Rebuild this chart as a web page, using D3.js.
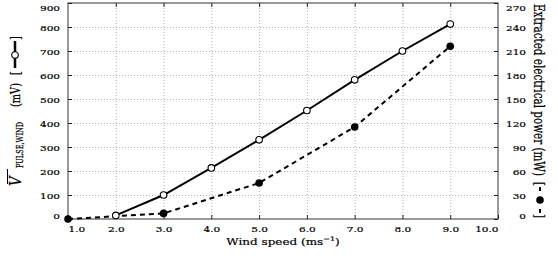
<!DOCTYPE html>
<html><head><meta charset="utf-8">
<script src="https://cdn.jsdelivr.net/npm/d3@7"></script>
<style>body{margin:0;background:#fff}svg{display:block}text{stroke:#000;stroke-width:0.25px}</style>
</head><body><svg id="c" width="558" height="260"></svg>
<script>
// ---- data ----
const windTicks = [1, 2, 3, 4, 5, 6, 7, 8, 9, 10];
const windTickLabels = ["1.0", "2.0", "3.0", "4.0", "5.0", "6.0", "7.0", "8.0", "9.0", "10.0"];
const voltageSpeeds = [2, 3, 4, 5, 6, 7, 8, 9];
const voltageMV = [15, 100, 213, 330, 452, 580, 700, 812];
const powerSpeeds = [1, 3, 5, 7, 9];
const powerMW = [0, 7, 45, 115, 216];
const leftTicks = [0, 100, 200, 300, 400, 500, 600, 700, 800, 900];
const rightTicks = [0, 30, 60, 90, 120, 150, 180, 210, 240, 270];

// ---- layout ----
const L = 68, R = 498, T = 3, B = 219;
const FONT = "'DejaVu Serif', serif";
const SQ = 0.78;
const INK = "#000";
const svg = d3.select("#c");
const x = d3.scaleLinear([1, 10], [L, R]);
const yL = d3.scaleLinear([0, 900], [B, T]);
const yR = d3.scaleLinear([0, 270], [B, T]);

// grid
const gx = svg.append("g").attr("transform", `translate(0,${B})`)
  .call(d3.axisBottom(x).tickValues(windTicks.slice(1, -1)).tickSize(-(B - T)).tickFormat(""));
gx.select(".domain").remove();
gx.selectAll("line").attr("stroke", "#b4b4b4").attr("stroke-dasharray", "1,2");
const gy = svg.append("g").attr("transform", `translate(${L},0)`)
  .call(d3.axisLeft(yL).tickValues(leftTicks.slice(1, -1)).tickSize(-(R - L)).tickFormat(""));
gy.select(".domain").remove();
gy.selectAll("line").attr("stroke", "#b4b4b4").attr("stroke-dasharray", "1,2");

// frame
svg.append("rect").attr("x", L).attr("y", T).attr("width", R - L).attr("height", B - T)
  .attr("fill", "none").attr("stroke", "#555").attr("stroke-width", 1.2);

function styleTicks(g) {
  g.select(".domain").remove();
  g.selectAll("line").attr("stroke", "#222").attr("stroke-width", 1);
  g.selectAll("text").attr("font-family", FONT).attr("font-size", 10.5).attr("fill", INK);
}

// bottom axis
const ab = svg.append("g").attr("transform", `translate(0,${B})`)
  .call(d3.axisBottom(x).tickValues(windTicks).tickSize(-4).tickFormat((d, i) => windTickLabels[i]));
styleTicks(ab);
ab.selectAll("text").each(function (d) {
  const t = d3.select(this).attr("y", 0).attr("dy", null).attr("text-anchor", "middle");
  const w = this.getComputedTextLength();
  let dx = 0;
  const xp = x(d);
  if (xp - w / 2 < L) dx = L - (xp - w / 2);
  if (xp + w / 2 > R) dx = R - (xp + w / 2);
  t.attr("transform", `translate(${dx},13) scale(1,${SQ})`);
});
// top ticks
const at = svg.append("g").attr("transform", `translate(0,${T})`)
  .call(d3.axisTop(x).tickValues(windTicks.slice(1, -1)).tickSize(-4).tickFormat(""));
styleTicks(at);

// left axis
const al = svg.append("g").attr("transform", `translate(${L},0)`)
  .call(d3.axisLeft(yL).tickValues(leftTicks).tickSize(-4));
styleTicks(al);
al.selectAll("text").each(function (d) {
  const yp = yL(d);
  const cy = Math.max(T + 4, Math.min(B - 4, yp));
  d3.select(this).attr("x", 0).attr("y", 0).attr("dy", null).attr("text-anchor", "end")
    .attr("transform", `translate(-8,${cy - yp + 3}) scale(1,${SQ})`);
});
// right axis
const ar = svg.append("g").attr("transform", `translate(${R},0)`)
  .call(d3.axisRight(yR).tickValues(rightTicks).tickSize(-4));
styleTicks(ar);
ar.selectAll("text").each(function (d) {
  const yp = yR(d);
  const cy = Math.max(T + 4, Math.min(B - 4, yp));
  d3.select(this).attr("x", 0).attr("y", 0).attr("dy", null).attr("text-anchor", "end")
    .attr("transform", `translate(28,${cy - yp + 3}) scale(1,${SQ})`);
});

// series
const vData = voltageSpeeds.map((s, i) => ({ s, v: voltageMV[i] }));
const pData = powerSpeeds.map((s, i) => ({ s, v: powerMW[i] }));
svg.append("path").datum(pData)
  .attr("d", d3.line().x(d => x(d.s)).y(d => yR(d.v)))
  .attr("fill", "none").attr("stroke", "#000").attr("stroke-width", 2)
  .attr("stroke-dasharray", "5,4");
svg.append("path").datum(vData)
  .attr("d", d3.line().x(d => x(d.s)).y(d => yL(d.v)))
  .attr("fill", "none").attr("stroke", "#000").attr("stroke-width", 2);
svg.append("g").selectAll("circle").data(pData).join("circle")
  .attr("cx", d => x(d.s)).attr("cy", d => yR(d.v)).attr("r", 3.8).attr("fill", "#000");
svg.append("g").selectAll("circle").data(vData).join("circle")
  .attr("cx", d => x(d.s)).attr("cy", d => yL(d.v)).attr("r", 3.3)
  .attr("fill", "#fff").attr("stroke", "#000").attr("stroke-width", 1.1);

// x title
const xt = svg.append("text").attr("text-anchor", "middle").attr("font-family", FONT)
  .attr("font-size", 12).attr("fill", INK)
  .attr("transform", `translate(${(L + R) / 2},245) scale(1,${SQ})`);
xt.append("tspan").text("Wind speed (ms");
xt.append("tspan").attr("font-size", 8).attr("dy", -5).text("\u22121");
xt.append("tspan").attr("dy", 5).text(")");

// left title (rotated, reading upward)
const cyMid = (T + B) / 2;
const lgS = svg.append("g").attr("transform", `translate(14,${cyMid}) rotate(-90) scale(${SQ},1)`);
const lg = svg.append("g").attr("transform", `translate(14,${cyMid}) rotate(-90)`);
lgS.append("text").attr("x", -75 / SQ).attr("y", 7).attr("font-family", FONT).attr("font-size", 17)
  .attr("font-style", "italic").attr("fill", INK).text("V");
lg.append("line").attr("x1", -73).attr("x2", -58).attr("y1", -6.5).attr("y2", -6.5)
  .attr("stroke", INK).attr("stroke-width", 1);
lgS.append("text").attr("x", -57 / SQ).attr("y", 8.5).attr("font-family", FONT).attr("font-size", 10)
  .attr("textLength", 46 / SQ).attr("lengthAdjust", "spacingAndGlyphs")
  .attr("fill", INK).text("PULSE,WIND");
lgS.append("text").attr("x", 4 / SQ).attr("y", 6).attr("font-family", FONT).attr("font-size", 12.5)
  .attr("textLength", 24 / SQ).attr("lengthAdjust", "spacingAndGlyphs")
  .attr("fill", INK).text("(mV)");
lgS.append("text").attr("x", 36 / SQ).attr("y", 6).attr("font-family", FONT).attr("font-size", 12.5)
  .attr("fill", INK).text("[");
lgS.append("text").attr("x", 71 / SQ).attr("y", 6).attr("font-family", FONT).attr("font-size", 12.5)
  .attr("fill", INK).text("]");
lg.append("line").attr("x1", 43).attr("x2", 70).attr("y1", 1).attr("y2", 1)
  .attr("stroke", "#000").attr("stroke-width", 2.5);
lg.append("circle").attr("cx", 56).attr("cy", 1).attr("r", 3.3)
  .attr("fill", "#fff").attr("stroke", "#000").attr("stroke-width", 1.1);

// right title (rotated, reading downward)
const rgS = svg.append("g").attr("transform", `translate(540,${cyMid}) rotate(90) scale(${SQ},1)`);
const rg = svg.append("g").attr("transform", `translate(540,${cyMid}) rotate(90)`);
rgS.append("text").attr("x", -107 / SQ).attr("y", 6).attr("font-family", FONT).attr("font-size", 14)
  .attr("textLength", 172 / SQ).attr("lengthAdjust", "spacingAndGlyphs")
  .attr("fill", INK).text("Extracted electrical power (mW)");
rgS.append("text").attr("x", 71 / SQ).attr("y", 5).attr("font-family", FONT).attr("font-size", 13)
  .attr("fill", INK).text("[");
rgS.append("text").attr("x", 103 / SQ).attr("y", 5).attr("font-family", FONT).attr("font-size", 13)
  .attr("fill", INK).text("]");
rg.append("line").attr("x1", 76).attr("x2", 102).attr("y1", 0).attr("y2", 0)
  .attr("stroke", "#000").attr("stroke-width", 2).attr("stroke-dasharray", "4,18");
rg.append("circle").attr("cx", 89).attr("cy", 0).attr("r", 3.8).attr("fill", "#000");
</script>
</body></html>
